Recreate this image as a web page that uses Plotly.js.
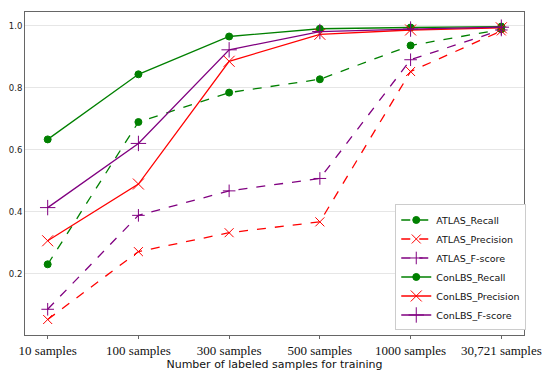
<!DOCTYPE html>
<html><head><meta charset="utf-8">
<script src="https://cdn.plot.ly/plotly-3.0.1.min.js"></script>
<style>html,body{margin:0;padding:0;background:#fff}#chart{width:550px;height:377px}</style>
</head><body><div id="chart"></div>
<script>
const categories = ["10 samples","100 samples","300 samples","500 samples","1000 samples","30,721 samples"];
const atlasRecall    = [0.231, 0.690, 0.785, 0.828, 0.937, 0.989];
const atlasPrecision = [0.053, 0.272, 0.333, 0.368, 0.853, 0.984];
const atlasFscore    = [0.086, 0.389, 0.468, 0.508, 0.891, 0.987];
const conRecall      = [0.634, 0.844, 0.966, 0.991, 0.995, 0.998];
const conPrecision   = [0.307, 0.490, 0.886, 0.973, 0.987, 0.994];
const conFscore      = [0.414, 0.621, 0.923, 0.982, 0.990, 0.996];

const green = "#008000", red = "#ff0000", purple = "#800080";
function tr(name, y, color, dash, symbol, size){
  return {type:"scatter", mode:"lines+markers", name:name, x:categories, y:y,
    line:{color:color, width:1.3, dash:dash},
    marker:{color:color, symbol:symbol, size:size, line:{color:color, width:1}}};
}
const data = [
  tr("ATLAS_Recall", atlasRecall, green, "dash", "circle", 7),
  tr("ATLAS_Precision", atlasPrecision, red, "dash", "x-thin-open", 9),
  tr("ATLAS_F-score", atlasFscore, purple, "dash", "cross-thin-open", 9),
  tr("ConLBS_Recall", conRecall, green, "solid", "circle", 7),
  tr("ConLBS_Precision", conPrecision, red, "solid", "x-thin-open", 11),
  tr("ConLBS_F-score", conFscore, purple, "solid", "cross-thin-open", 11)
];
const layout = {
  width:550, height:377,
  margin:{l:24.5, r:26, t:11.5, b:42},
  paper_bgcolor:"#fff", plot_bgcolor:"#fff",
  showlegend:true,
  xaxis:{type:"category", range:[-0.25,5.25], showgrid:false, zeroline:false,
    showline:true, linecolor:"#666", linewidth:1, mirror:true,
    ticks:"outside", ticklen:3, tickcolor:"#666",
    tickfont:{family:"Liberation Serif, Times New Roman, serif", size:13, color:"#111"},
    title:{text:"Number of labeled samples for training", standoff:2,
      font:{family:"DejaVu Sans, sans-serif", size:11, color:"#111"}}},
  yaxis:{range:[0.003,1.045], tickvals:[0.2,0.4,0.6,0.8,1.0], ticktext:["0.2","0.4","0.6","0.8","1.0"],
    showgrid:true, gridcolor:"#e6e6e6", gridwidth:1, zeroline:false,
    showline:true, linecolor:"#666", linewidth:1, mirror:true, ticks:"",
    tickfont:{family:"DejaVu Sans, sans-serif", size:8.5, color:"#222"}},
  legend:{x:0.742, y:0.014, xanchor:"left", yanchor:"bottom",
    bgcolor:"#fff", bordercolor:"#ccc", borderwidth:1,
    font:{family:"DejaVu Sans, sans-serif", size:9.5, color:"#111"},
    itemwidth:30, tracegroupgap:0}
};
Plotly.newPlot("chart", data, layout, {displayModeBar:false, staticPlot:true});
</script></body></html>
